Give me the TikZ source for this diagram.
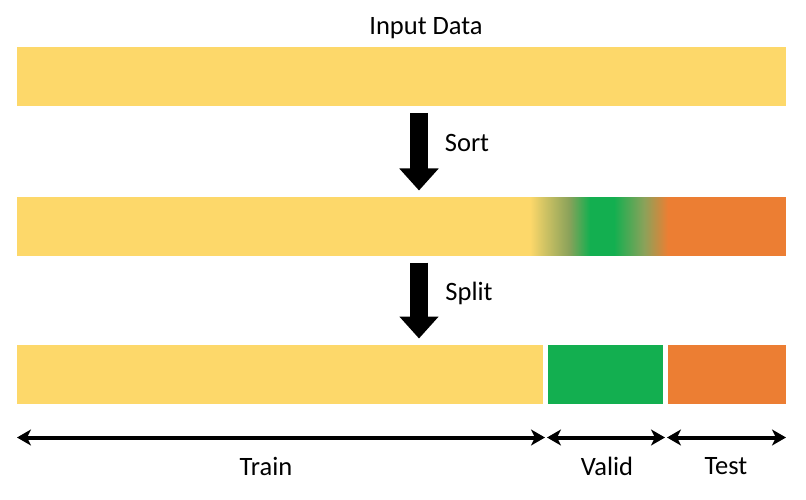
\documentclass[tikz,border=0pt]{standalone}
\usepackage{fontspec}
\setmainfont{Carlito}
\usetikzlibrary{arrows.meta, positioning, calc}
\definecolor{datacol}{RGB}{253, 216, 106}
\definecolor{validcol}{RGB}{19, 175, 80}
\definecolor{testcol}{RGB}{236, 126, 51}
\definecolor{mixcol}{RGB}{138, 162, 90}
\pgfdeclarehorizontalshading{sortmix}{100bp}{color(0bp)=(datacol); color(25bp)=(datacol);
  color(30bp)=(datacol!60!mixcol); color(38bp)=(mixcol); color(45bp)=(validcol);
  color(53bp)=(validcol); color(63bp)=(mixcol); color(71bp)=(testcol); color(75bp)=(testcol);
  color(100bp)=(testcol)}

\begin{document}
\begin{tikzpicture}[
        x=1pt, y=-1pt,
        bar/.style={rectangle, inner sep=0pt, outer sep=0pt, minimum height=59pt},
        label/.style={font=\fontsize{26.5}{30}\selectfont, inner sep=1pt},
        bigarrow/.style={-{Triangle[length=22pt, width=38pt]}, line width=18pt},
        span/.style={{Stealth[length=14pt, width=16pt, inset=4pt]}-{Stealth[length=14pt, width=16pt, inset=4pt]}, line width=4pt},
    ]
        \useasboundingbox (0,0) rectangle (806,500);
        \coordinate (ax) at (419,0);
        \coordinate (mixa) at (530,0);
        \coordinate (mixb) at (680,0);

        % input data
        \node[bar, fill=datacol, minimum width=769pt] (raw) at (401.5,76.5) {};
        \node[label] (rawlbl) at (426,28) {Input Data};

        % sorted data
        \node[bar, fill=datacol, minimum width=769pt] (sorted) at (401.5,226) {};
        \shade[shading=sortmix] ([yshift=-1pt]sorted.north -| mixa) rectangle ([yshift=0.5pt]sorted.south -| mixb);
        \fill[testcol] (sorted.north -| mixb) rectangle (sorted.south east);

        % split data
        \node[bar, fill=datacol, minimum width=526pt] (train) at (280,374) {};
        \node[bar, fill=validcol, minimum width=115pt, right=5pt of train] (valid) {};
        \node[bar, fill=testcol, minimum width=118pt, right=5pt of valid] (test) {};

        \draw[bigarrow, shorten <=7pt, shorten >=6pt] (raw.south -| ax) -- (sorted.north -| ax);
        \node[label] (sortlbl) at (467,143) {Sort};
        \draw[bigarrow, shorten <=7pt, shorten >=6pt] (sorted.south -| ax) -- (train.north -| ax);
        \node[label] (splitlbl) at (469,293) {Split};

        % spans
        \draw[span] ([yshift=-34pt]train.south west) -- ([xshift=2pt, yshift=-34pt]train.south east);
        \draw[span] ([xshift=-1pt, yshift=-34pt]valid.south west) -- ([xshift=2pt, yshift=-34pt]valid.south east);
        \draw[span] ([xshift=-1pt, yshift=-34pt]test.south west) -- ([yshift=-34pt]test.south east);
        \node[label] (trainlbl) at (266,466) {Train};
        \node[label] (validlbl) at (607,466) {Valid};
        \node[label] (testlbl) at (726,466) {Test};
    \end{tikzpicture}
\end{document}
